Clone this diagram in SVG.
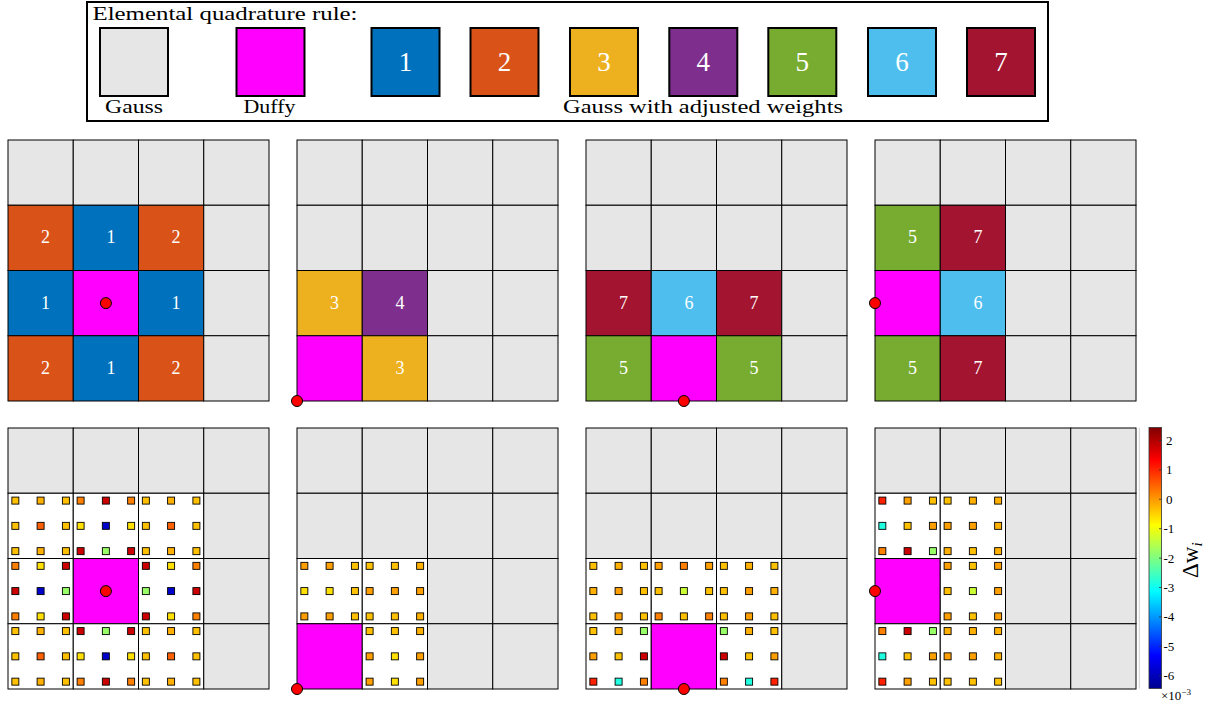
<svg xmlns="http://www.w3.org/2000/svg" width="1214" height="704" viewBox="0 0 1214 704">
<defs>
<style>
.gs{fill:#E6E6E6}.df{fill:#FF00FF}.k1{fill:#0072BD}.k2{fill:#D95319}.k3{fill:#EDB120}.k4{fill:#7E2F8E}.k5{fill:#77AC30}.k6{fill:#4DBEEE}.k7{fill:#A2142F}.wt{fill:#FFFFFF}
.cell rect,.cells rect{stroke:#000;stroke-width:1}
.lg{stroke:#000;stroke-width:2}
.q rect{stroke:#000;stroke-width:0.9;width:7px;height:7px}
.A{fill:#FFC000}.A2{fill:#FFB000}.O2{fill:#FFA000}.Or{fill:#FF8000}.O{fill:#FF6000}.Y{fill:#FFE000}.R{fill:#CC0000}.Rd{fill:#FF2000}.B{fill:#0000CC}.G{fill:#99FF66}.C{fill:#20FFE0}.YG{fill:#CCFF33}
.t{font-family:"Liberation Serif","Times New Roman",serif;fill:#000}
.n{font-family:"Liberation Serif","Times New Roman",serif;fill:#FFFFFF;text-anchor:middle;font-size:18px}
.ln{font-family:"Liberation Serif","Times New Roman",serif;fill:#FFFFFF;text-anchor:middle;font-size:27px}
.tk{font-family:"Liberation Serif","Times New Roman",serif;fill:#000;font-size:13px}
.dot{fill:#FF0000;stroke:#000;stroke-width:1}
</style>
<linearGradient id="jet" x1="0" y1="1" x2="0" y2="0">
<stop offset="0" stop-color="#00008F"/>
<stop offset="0.125" stop-color="#0000FF"/>
<stop offset="0.375" stop-color="#00FFFF"/>
<stop offset="0.625" stop-color="#FFFF00"/>
<stop offset="0.875" stop-color="#FF0000"/>
<stop offset="1" stop-color="#800000"/>
</linearGradient>
</defs>
<rect width="1214" height="704" fill="#FFFFFF"/>

<!-- Legend -->
<g id="legend">
<rect x="87" y="2" width="961" height="119" fill="#FFFFFF" stroke="#000" stroke-width="2"/>
<text class="t" x="92.5" y="20" font-size="19.5" textLength="265" lengthAdjust="spacingAndGlyphs">Elemental quadrature rule:</text>
<g id="lg-gauss"><rect class="lg gs" x="100" y="28" width="68" height="68"/><text class="t" x="105" y="113" font-size="19.5" textLength="58" lengthAdjust="spacingAndGlyphs">Gauss</text></g>
<g id="lg-duffy"><rect class="lg df" x="236.5" y="28" width="68" height="68"/><text class="t" x="243.5" y="113" font-size="19.5" textLength="52" lengthAdjust="spacingAndGlyphs">Duffy</text></g>
<g id="lg-1"><rect class="lg k1" x="371.5" y="28" width="68" height="68"/><text class="ln" x="405.5" y="71">1</text></g>
<g id="lg-2"><rect class="lg k2" x="470.5" y="28" width="68" height="68"/><text class="ln" x="504.5" y="71">2</text></g>
<g id="lg-3"><rect class="lg k3" x="570" y="28" width="68" height="68"/><text class="ln" x="604" y="71">3</text></g>
<g id="lg-4"><rect class="lg k4" x="669.3" y="28" width="68" height="68"/><text class="ln" x="703.3" y="71">4</text></g>
<g id="lg-5"><rect class="lg k5" x="768.3" y="28" width="68" height="68"/><text class="ln" x="802.3" y="71">5</text></g>
<g id="lg-6"><rect class="lg k6" x="868" y="28" width="68" height="68"/><text class="ln" x="902" y="71">6</text></g>
<g id="lg-7"><rect class="lg k7" x="967" y="28" width="68" height="68"/><text class="ln" x="1001" y="71">7</text></g>
<text class="t" x="563" y="113" font-size="19.5" textLength="280" lengthAdjust="spacingAndGlyphs">Gauss with adjusted weights</text>
</g>

<!-- Top panel 1 -->
<g id="top1" class="cells">
<rect class="gs" x="8" y="140" width="65.25" height="65.25"/><rect class="gs" x="73.25" y="140" width="65.25" height="65.25"/><rect class="gs" x="138.5" y="140" width="65.25" height="65.25"/><rect class="gs" x="203.75" y="140" width="65.25" height="65.25"/>
<rect class="k2" x="8" y="205.25" width="65.25" height="65.25"/><rect class="k1" x="73.25" y="205.25" width="65.25" height="65.25"/><rect class="k2" x="138.5" y="205.25" width="65.25" height="65.25"/><rect class="gs" x="203.75" y="205.25" width="65.25" height="65.25"/>
<rect class="k1" x="8" y="270.5" width="65.25" height="65.25"/><rect class="df" x="73.25" y="270.5" width="65.25" height="65.25"/><rect class="k1" x="138.5" y="270.5" width="65.25" height="65.25"/><rect class="gs" x="203.75" y="270.5" width="65.25" height="65.25"/>
<rect class="k2" x="8" y="335.75" width="65.25" height="65.25"/><rect class="k1" x="73.25" y="335.75" width="65.25" height="65.25"/><rect class="k2" x="138.5" y="335.75" width="65.25" height="65.25"/><rect class="gs" x="203.75" y="335.75" width="65.25" height="65.25"/>
<text class="n" x="45.6" y="243.4">2</text><text class="n" x="110.9" y="243.4">1</text><text class="n" x="176.1" y="243.4">2</text>
<text class="n" x="45.6" y="308.6">1</text><text class="n" x="176.1" y="308.6">1</text>
<text class="n" x="45.6" y="373.9">2</text><text class="n" x="110.9" y="373.9">1</text><text class="n" x="176.1" y="373.9">2</text>
<circle class="dot" cx="105.9" cy="303.1" r="5.5"/>
</g>

<!-- Top panel 2 -->
<g id="top2" class="cells">
<rect class="gs" x="297" y="140" width="65.25" height="65.25"/><rect class="gs" x="362.25" y="140" width="65.25" height="65.25"/><rect class="gs" x="427.5" y="140" width="65.25" height="65.25"/><rect class="gs" x="492.75" y="140" width="65.25" height="65.25"/>
<rect class="gs" x="297" y="205.25" width="65.25" height="65.25"/><rect class="gs" x="362.25" y="205.25" width="65.25" height="65.25"/><rect class="gs" x="427.5" y="205.25" width="65.25" height="65.25"/><rect class="gs" x="492.75" y="205.25" width="65.25" height="65.25"/>
<rect class="k3" x="297" y="270.5" width="65.25" height="65.25"/><rect class="k4" x="362.25" y="270.5" width="65.25" height="65.25"/><rect class="gs" x="427.5" y="270.5" width="65.25" height="65.25"/><rect class="gs" x="492.75" y="270.5" width="65.25" height="65.25"/>
<rect class="df" x="297" y="335.75" width="65.25" height="65.25"/><rect class="k3" x="362.25" y="335.75" width="65.25" height="65.25"/><rect class="gs" x="427.5" y="335.75" width="65.25" height="65.25"/><rect class="gs" x="492.75" y="335.75" width="65.25" height="65.25"/>
<text class="n" x="334.6" y="308.6">3</text><text class="n" x="399.9" y="308.6">4</text>
<text class="n" x="399.9" y="373.9">3</text>
<circle class="dot" cx="297" cy="401" r="5.5"/>
</g>

<!-- Top panel 3 -->
<g id="top3" class="cells">
<rect class="gs" x="586" y="140" width="65.25" height="65.25"/><rect class="gs" x="651.25" y="140" width="65.25" height="65.25"/><rect class="gs" x="716.5" y="140" width="65.25" height="65.25"/><rect class="gs" x="781.75" y="140" width="65.25" height="65.25"/>
<rect class="gs" x="586" y="205.25" width="65.25" height="65.25"/><rect class="gs" x="651.25" y="205.25" width="65.25" height="65.25"/><rect class="gs" x="716.5" y="205.25" width="65.25" height="65.25"/><rect class="gs" x="781.75" y="205.25" width="65.25" height="65.25"/>
<rect class="k7" x="586" y="270.5" width="65.25" height="65.25"/><rect class="k6" x="651.25" y="270.5" width="65.25" height="65.25"/><rect class="k7" x="716.5" y="270.5" width="65.25" height="65.25"/><rect class="gs" x="781.75" y="270.5" width="65.25" height="65.25"/>
<rect class="k5" x="586" y="335.75" width="65.25" height="65.25"/><rect class="df" x="651.25" y="335.75" width="65.25" height="65.25"/><rect class="k5" x="716.5" y="335.75" width="65.25" height="65.25"/><rect class="gs" x="781.75" y="335.75" width="65.25" height="65.25"/>
<text class="n" x="623.6" y="308.6">7</text><text class="n" x="688.9" y="308.6">6</text><text class="n" x="754.1" y="308.6">7</text>
<text class="n" x="623.6" y="373.9">5</text><text class="n" x="754.1" y="373.9">5</text>
<circle class="dot" cx="683.9" cy="401" r="5.5"/>
</g>

<!-- Top panel 4 -->
<g id="top4" class="cells">
<rect class="gs" x="875" y="140" width="65.25" height="65.25"/><rect class="gs" x="940.25" y="140" width="65.25" height="65.25"/><rect class="gs" x="1005.5" y="140" width="65.25" height="65.25"/><rect class="gs" x="1070.75" y="140" width="65.25" height="65.25"/>
<rect class="k5" x="875" y="205.25" width="65.25" height="65.25"/><rect class="k7" x="940.25" y="205.25" width="65.25" height="65.25"/><rect class="gs" x="1005.5" y="205.25" width="65.25" height="65.25"/><rect class="gs" x="1070.75" y="205.25" width="65.25" height="65.25"/>
<rect class="df" x="875" y="270.5" width="65.25" height="65.25"/><rect class="k6" x="940.25" y="270.5" width="65.25" height="65.25"/><rect class="gs" x="1005.5" y="270.5" width="65.25" height="65.25"/><rect class="gs" x="1070.75" y="270.5" width="65.25" height="65.25"/>
<rect class="k5" x="875" y="335.75" width="65.25" height="65.25"/><rect class="k7" x="940.25" y="335.75" width="65.25" height="65.25"/><rect class="gs" x="1005.5" y="335.75" width="65.25" height="65.25"/><rect class="gs" x="1070.75" y="335.75" width="65.25" height="65.25"/>
<text class="n" x="912.6" y="243.4">5</text><text class="n" x="977.9" y="243.4">7</text>
<text class="n" x="977.9" y="308.6">6</text>
<text class="n" x="912.6" y="373.9">5</text><text class="n" x="977.9" y="373.9">7</text>
<circle class="dot" cx="875" cy="303.1" r="5.5"/>
</g>

<!-- Bottom panel 1 -->
<g id="bot1">
<g class="cells">
<rect class="gs" x="8" y="428" width="65.25" height="65.25"/><rect class="gs" x="73.25" y="428" width="65.25" height="65.25"/><rect class="gs" x="138.5" y="428" width="65.25" height="65.25"/><rect class="gs" x="203.75" y="428" width="65.25" height="65.25"/>
<rect class="wt" x="8" y="493.25" width="65.25" height="65.25"/><rect class="wt" x="73.25" y="493.25" width="65.25" height="65.25"/><rect class="wt" x="138.5" y="493.25" width="65.25" height="65.25"/><rect class="gs" x="203.75" y="493.25" width="65.25" height="65.25"/>
<rect class="wt" x="8" y="558.5" width="65.25" height="65.25"/><rect class="df" x="73.25" y="558.5" width="65.25" height="65.25"/><rect class="wt" x="138.5" y="558.5" width="65.25" height="65.25"/><rect class="gs" x="203.75" y="558.5" width="65.25" height="65.25"/>
<rect class="wt" x="8" y="623.75" width="65.25" height="65.25"/><rect class="wt" x="73.25" y="623.75" width="65.25" height="65.25"/><rect class="wt" x="138.5" y="623.75" width="65.25" height="65.25"/><rect class="gs" x="203.75" y="623.75" width="65.25" height="65.25"/>
</g>
<g class="q" transform="translate(8,493.25)">
<rect class="A" x="3.85" y="3.85"/><rect class="A2" x="29.1" y="3.85"/><rect class="A" x="54.4" y="3.85"/>
<rect class="A" x="3.85" y="29.1"/><rect class="O" x="29.1" y="29.1"/><rect class="A" x="54.4" y="29.1"/>
<rect class="A" x="3.85" y="54.4"/><rect class="A2" x="29.1" y="54.4"/><rect class="A" x="54.4" y="54.4"/>
</g>
<g class="q" transform="translate(73.25,493.25)">
<rect class="Or" x="3.85" y="3.85"/><rect class="R" x="29.1" y="3.85"/><rect class="Or" x="54.4" y="3.85"/>
<rect class="Y" x="3.85" y="29.1"/><rect class="B" x="29.1" y="29.1"/><rect class="Y" x="54.4" y="29.1"/>
<rect class="R" x="3.85" y="54.4"/><rect class="G" x="29.1" y="54.4"/><rect class="R" x="54.4" y="54.4"/>
</g>
<g class="q" transform="translate(138.5,493.25)">
<rect class="A" x="3.85" y="3.85"/><rect class="A2" x="29.1" y="3.85"/><rect class="A" x="54.4" y="3.85"/>
<rect class="A" x="3.85" y="29.1"/><rect class="O" x="29.1" y="29.1"/><rect class="A" x="54.4" y="29.1"/>
<rect class="A" x="3.85" y="54.4"/><rect class="A2" x="29.1" y="54.4"/><rect class="A" x="54.4" y="54.4"/>
</g>
<g class="q" transform="translate(8,558.5)">
<rect class="Or" x="3.85" y="3.85"/><rect class="Y" x="29.1" y="3.85"/><rect class="R" x="54.4" y="3.85"/>
<rect class="R" x="3.85" y="29.1"/><rect class="B" x="29.1" y="29.1"/><rect class="G" x="54.4" y="29.1"/>
<rect class="Or" x="3.85" y="54.4"/><rect class="Y" x="29.1" y="54.4"/><rect class="R" x="54.4" y="54.4"/>
</g>
<g class="q" transform="translate(138.5,558.5)">
<rect class="R" x="3.85" y="3.85"/><rect class="Y" x="29.1" y="3.85"/><rect class="Or" x="54.4" y="3.85"/>
<rect class="G" x="3.85" y="29.1"/><rect class="B" x="29.1" y="29.1"/><rect class="R" x="54.4" y="29.1"/>
<rect class="R" x="3.85" y="54.4"/><rect class="Y" x="29.1" y="54.4"/><rect class="Or" x="54.4" y="54.4"/>
</g>
<g class="q" transform="translate(8,623.75)">
<rect class="A" x="3.85" y="3.85"/><rect class="A2" x="29.1" y="3.85"/><rect class="A" x="54.4" y="3.85"/>
<rect class="A" x="3.85" y="29.1"/><rect class="O" x="29.1" y="29.1"/><rect class="A" x="54.4" y="29.1"/>
<rect class="A" x="3.85" y="54.4"/><rect class="A2" x="29.1" y="54.4"/><rect class="A" x="54.4" y="54.4"/>
</g>
<g class="q" transform="translate(73.25,623.75)">
<rect class="R" x="3.85" y="3.85"/><rect class="G" x="29.1" y="3.85"/><rect class="R" x="54.4" y="3.85"/>
<rect class="Y" x="3.85" y="29.1"/><rect class="B" x="29.1" y="29.1"/><rect class="Y" x="54.4" y="29.1"/>
<rect class="Or" x="3.85" y="54.4"/><rect class="R" x="29.1" y="54.4"/><rect class="Or" x="54.4" y="54.4"/>
</g>
<g class="q" transform="translate(138.5,623.75)">
<rect class="A" x="3.85" y="3.85"/><rect class="A2" x="29.1" y="3.85"/><rect class="A" x="54.4" y="3.85"/>
<rect class="A" x="3.85" y="29.1"/><rect class="O" x="29.1" y="29.1"/><rect class="A" x="54.4" y="29.1"/>
<rect class="A" x="3.85" y="54.4"/><rect class="A2" x="29.1" y="54.4"/><rect class="A" x="54.4" y="54.4"/>
</g>
<circle class="dot" cx="105.9" cy="591.1" r="5.5"/>
</g>

<!-- Bottom panel 2 -->
<g id="bot2">
<g class="cells">
<rect class="gs" x="297" y="428" width="65.25" height="65.25"/><rect class="gs" x="362.25" y="428" width="65.25" height="65.25"/><rect class="gs" x="427.5" y="428" width="65.25" height="65.25"/><rect class="gs" x="492.75" y="428" width="65.25" height="65.25"/>
<rect class="gs" x="297" y="493.25" width="65.25" height="65.25"/><rect class="gs" x="362.25" y="493.25" width="65.25" height="65.25"/><rect class="gs" x="427.5" y="493.25" width="65.25" height="65.25"/><rect class="gs" x="492.75" y="493.25" width="65.25" height="65.25"/>
<rect class="wt" x="297" y="558.5" width="65.25" height="65.25"/><rect class="wt" x="362.25" y="558.5" width="65.25" height="65.25"/><rect class="gs" x="427.5" y="558.5" width="65.25" height="65.25"/><rect class="gs" x="492.75" y="558.5" width="65.25" height="65.25"/>
<rect class="df" x="297" y="623.75" width="65.25" height="65.25"/><rect class="wt" x="362.25" y="623.75" width="65.25" height="65.25"/><rect class="gs" x="427.5" y="623.75" width="65.25" height="65.25"/><rect class="gs" x="492.75" y="623.75" width="65.25" height="65.25"/>
</g>
<g class="q" transform="translate(297,558.5)">
<rect class="O2" x="3.85" y="3.85"/><rect class="O2" x="29.1" y="3.85"/><rect class="A" x="54.4" y="3.85"/>
<rect class="Y" x="3.85" y="29.1"/><rect class="Y" x="29.1" y="29.1"/><rect class="A" x="54.4" y="29.1"/>
<rect class="O2" x="3.85" y="54.4"/><rect class="O2" x="29.1" y="54.4"/><rect class="A" x="54.4" y="54.4"/>
</g>
<g class="q" transform="translate(362.25,558.5)">
<rect class="A" x="3.85" y="3.85"/><rect class="A" x="29.1" y="3.85"/><rect class="A2" x="54.4" y="3.85"/>
<rect class="O2" x="3.85" y="29.1"/><rect class="O2" x="29.1" y="29.1"/><rect class="O2" x="54.4" y="29.1"/>
<rect class="A" x="3.85" y="54.4"/><rect class="A" x="29.1" y="54.4"/><rect class="A2" x="54.4" y="54.4"/>
</g>
<g class="q" transform="translate(362.25,623.75)">
<rect class="A" x="3.85" y="3.85"/><rect class="A" x="29.1" y="3.85"/><rect class="A2" x="54.4" y="3.85"/>
<rect class="O2" x="3.85" y="29.1"/><rect class="Y" x="29.1" y="29.1"/><rect class="O2" x="54.4" y="29.1"/>
<rect class="O2" x="3.85" y="54.4"/><rect class="Y" x="29.1" y="54.4"/><rect class="O2" x="54.4" y="54.4"/>
</g>
<circle class="dot" cx="297" cy="689" r="5.5"/>
</g>

<!-- Bottom panel 3 -->
<g id="bot3">
<g class="cells">
<rect class="gs" x="586" y="428" width="65.25" height="65.25"/><rect class="gs" x="651.25" y="428" width="65.25" height="65.25"/><rect class="gs" x="716.5" y="428" width="65.25" height="65.25"/><rect class="gs" x="781.75" y="428" width="65.25" height="65.25"/>
<rect class="gs" x="586" y="493.25" width="65.25" height="65.25"/><rect class="gs" x="651.25" y="493.25" width="65.25" height="65.25"/><rect class="gs" x="716.5" y="493.25" width="65.25" height="65.25"/><rect class="gs" x="781.75" y="493.25" width="65.25" height="65.25"/>
<rect class="wt" x="586" y="558.5" width="65.25" height="65.25"/><rect class="wt" x="651.25" y="558.5" width="65.25" height="65.25"/><rect class="wt" x="716.5" y="558.5" width="65.25" height="65.25"/><rect class="gs" x="781.75" y="558.5" width="65.25" height="65.25"/>
<rect class="wt" x="586" y="623.75" width="65.25" height="65.25"/><rect class="df" x="651.25" y="623.75" width="65.25" height="65.25"/><rect class="wt" x="716.5" y="623.75" width="65.25" height="65.25"/><rect class="gs" x="781.75" y="623.75" width="65.25" height="65.25"/>
</g>
<g class="q" transform="translate(586,558.5)">
<rect class="A" x="3.85" y="3.85"/><rect class="A2" x="29.1" y="3.85"/><rect class="A" x="54.4" y="3.85"/>
<rect class="A2" x="3.85" y="29.1"/><rect class="O2" x="29.1" y="29.1"/><rect class="A" x="54.4" y="29.1"/>
<rect class="A" x="3.85" y="54.4"/><rect class="O2" x="29.1" y="54.4"/><rect class="A" x="54.4" y="54.4"/>
</g>
<g class="q" transform="translate(651.25,558.5)">
<rect class="O2" x="3.85" y="3.85"/><rect class="Or" x="29.1" y="3.85"/><rect class="O2" x="54.4" y="3.85"/>
<rect class="A" x="3.85" y="29.1"/><rect class="YG" x="29.1" y="29.1"/><rect class="A" x="54.4" y="29.1"/>
<rect class="Or" x="3.85" y="54.4"/><rect class="A" x="29.1" y="54.4"/><rect class="Or" x="54.4" y="54.4"/>
</g>
<g class="q" transform="translate(716.5,558.5)">
<rect class="A" x="3.85" y="3.85"/><rect class="A2" x="29.1" y="3.85"/><rect class="A" x="54.4" y="3.85"/>
<rect class="A" x="3.85" y="29.1"/><rect class="O2" x="29.1" y="29.1"/><rect class="A2" x="54.4" y="29.1"/>
<rect class="A" x="3.85" y="54.4"/><rect class="O2" x="29.1" y="54.4"/><rect class="A" x="54.4" y="54.4"/>
</g>
<g class="q" transform="translate(586,623.75)">
<rect class="A" x="3.85" y="3.85"/><rect class="A2" x="29.1" y="3.85"/><rect class="G" x="54.4" y="3.85"/>
<rect class="O2" x="3.85" y="29.1"/><rect class="A" x="29.1" y="29.1"/><rect class="R" x="54.4" y="29.1"/>
<rect class="Rd" x="3.85" y="54.4"/><rect class="C" x="29.1" y="54.4"/><rect class="Or" x="54.4" y="54.4"/>
</g>
<g class="q" transform="translate(716.5,623.75)">
<rect class="G" x="3.85" y="3.85"/><rect class="A2" x="29.1" y="3.85"/><rect class="A" x="54.4" y="3.85"/>
<rect class="R" x="3.85" y="29.1"/><rect class="A" x="29.1" y="29.1"/><rect class="O2" x="54.4" y="29.1"/>
<rect class="Or" x="3.85" y="54.4"/><rect class="C" x="29.1" y="54.4"/><rect class="Rd" x="54.4" y="54.4"/>
</g>
<circle class="dot" cx="683.9" cy="689" r="5.5"/>
</g>

<!-- Bottom panel 4 -->
<g id="bot4">
<g class="cells">
<rect class="gs" x="875" y="428" width="65.25" height="65.25"/><rect class="gs" x="940.25" y="428" width="65.25" height="65.25"/><rect class="gs" x="1005.5" y="428" width="65.25" height="65.25"/><rect class="gs" x="1070.75" y="428" width="65.25" height="65.25"/>
<rect class="wt" x="875" y="493.25" width="65.25" height="65.25"/><rect class="wt" x="940.25" y="493.25" width="65.25" height="65.25"/><rect class="gs" x="1005.5" y="493.25" width="65.25" height="65.25"/><rect class="gs" x="1070.75" y="493.25" width="65.25" height="65.25"/>
<rect class="df" x="875" y="558.5" width="65.25" height="65.25"/><rect class="wt" x="940.25" y="558.5" width="65.25" height="65.25"/><rect class="gs" x="1005.5" y="558.5" width="65.25" height="65.25"/><rect class="gs" x="1070.75" y="558.5" width="65.25" height="65.25"/>
<rect class="wt" x="875" y="623.75" width="65.25" height="65.25"/><rect class="wt" x="940.25" y="623.75" width="65.25" height="65.25"/><rect class="gs" x="1005.5" y="623.75" width="65.25" height="65.25"/><rect class="gs" x="1070.75" y="623.75" width="65.25" height="65.25"/>
</g>
<g class="q" transform="translate(875,493.25)">
<rect class="Rd" x="3.85" y="3.85"/><rect class="O2" x="29.1" y="3.85"/><rect class="A" x="54.4" y="3.85"/>
<rect class="C" x="3.85" y="29.1"/><rect class="A" x="29.1" y="29.1"/><rect class="O2" x="54.4" y="29.1"/>
<rect class="Or" x="3.85" y="54.4"/><rect class="R" x="29.1" y="54.4"/><rect class="G" x="54.4" y="54.4"/>
</g>
<g class="q" transform="translate(940.25,493.25)">
<rect class="A" x="3.85" y="3.85"/><rect class="A2" x="29.1" y="3.85"/><rect class="A2" x="54.4" y="3.85"/>
<rect class="O2" x="3.85" y="29.1"/><rect class="O2" x="29.1" y="29.1"/><rect class="A2" x="54.4" y="29.1"/>
<rect class="A2" x="3.85" y="54.4"/><rect class="A" x="29.1" y="54.4"/><rect class="A2" x="54.4" y="54.4"/>
</g>
<g class="q" transform="translate(940.25,558.5)">
<rect class="O2" x="3.85" y="3.85"/><rect class="A" x="29.1" y="3.85"/><rect class="O2" x="54.4" y="3.85"/>
<rect class="A" x="3.85" y="29.1"/><rect class="YG" x="29.1" y="29.1"/><rect class="O2" x="54.4" y="29.1"/>
<rect class="O2" x="3.85" y="54.4"/><rect class="A" x="29.1" y="54.4"/><rect class="O2" x="54.4" y="54.4"/>
</g>
<g class="q" transform="translate(875,623.75)">
<rect class="Or" x="3.85" y="3.85"/><rect class="R" x="29.1" y="3.85"/><rect class="G" x="54.4" y="3.85"/>
<rect class="C" x="3.85" y="29.1"/><rect class="A" x="29.1" y="29.1"/><rect class="O2" x="54.4" y="29.1"/>
<rect class="Rd" x="3.85" y="54.4"/><rect class="O2" x="29.1" y="54.4"/><rect class="A" x="54.4" y="54.4"/>
</g>
<g class="q" transform="translate(940.25,623.75)">
<rect class="A2" x="3.85" y="3.85"/><rect class="A2" x="29.1" y="3.85"/><rect class="A2" x="54.4" y="3.85"/>
<rect class="O2" x="3.85" y="29.1"/><rect class="O2" x="29.1" y="29.1"/><rect class="A2" x="54.4" y="29.1"/>
<rect class="A" x="3.85" y="54.4"/><rect class="A" x="29.1" y="54.4"/><rect class="A" x="54.4" y="54.4"/>
</g>
<circle class="dot" cx="875" cy="591.1" r="5.5"/>
</g>

<!-- Colorbar -->
<g id="colorbar">
<line x1="1139.3" y1="427.5" x2="1139.3" y2="688.5" stroke="#D0D0D0" stroke-width="1"/>
<rect x="1149" y="427.5" width="12.5" height="261" fill="url(#jet)" stroke="#333" stroke-width="0.8"/>
<g stroke="#333" stroke-width="0.8">
<line x1="1159" y1="440.5" x2="1161.5" y2="440.5"/><line x1="1159" y1="469.9" x2="1161.5" y2="469.9"/><line x1="1159" y1="499.3" x2="1161.5" y2="499.3"/><line x1="1159" y1="528.7" x2="1161.5" y2="528.7"/><line x1="1159" y1="558.1" x2="1161.5" y2="558.1"/><line x1="1159" y1="587.5" x2="1161.5" y2="587.5"/><line x1="1159" y1="616.9" x2="1161.5" y2="616.9"/><line x1="1159" y1="646.3" x2="1161.5" y2="646.3"/><line x1="1159" y1="675.7" x2="1161.5" y2="675.7"/>
</g>
<text class="tk" x="1166" y="445">2</text>
<text class="tk" x="1166" y="474.4">1</text>
<text class="tk" x="1166" y="503.8">0</text>
<text class="tk" x="1163.5" y="533.2">-1</text>
<text class="tk" x="1163.5" y="562.6">-2</text>
<text class="tk" x="1163.5" y="592">-3</text>
<text class="tk" x="1163.5" y="621.4">-4</text>
<text class="tk" x="1163.5" y="650.8">-5</text>
<text class="tk" x="1163.5" y="680.2">-6</text>
<text class="t" font-size="23" transform="translate(1198,578) rotate(-90)">Δw<tspan font-size="15" dy="4" font-style="italic">i</tspan></text>
<text class="t" x="1161" y="700" font-size="13">×10<tspan font-size="9" dy="-5">−3</tspan></text>
</g>
</svg>
